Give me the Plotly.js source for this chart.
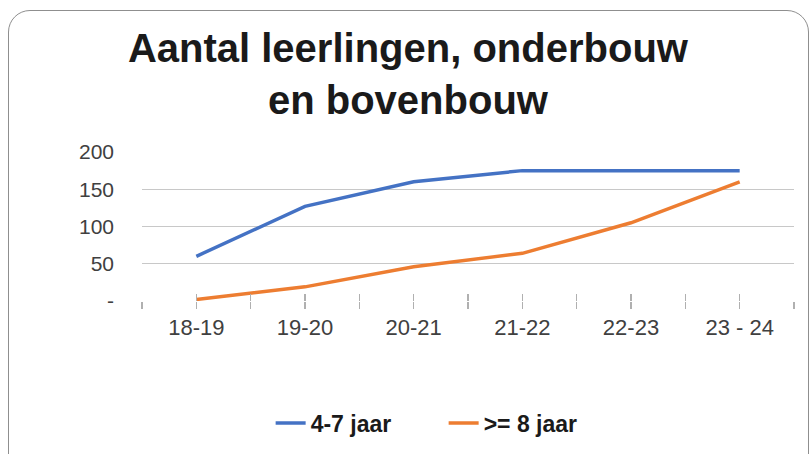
<!DOCTYPE html>
<html>
<head>
<meta charset="utf-8">
<script src="https://cdn.plot.ly/plotly-3.0.1.min.js"></script>
<style>
  html, body { margin:0; padding:0; background:#fff; }
  #wrap { position:relative; width:811px; height:454px; overflow:hidden; }
  #chart { position:absolute; left:0; top:0; width:811px; height:454px; }
  #frame { position:absolute; left:8px; top:10px; width:801px; height:470px;
           border:1.5px solid #8f8f8f; border-radius:22px; box-sizing:border-box; pointer-events:none; }
</style>
</head>
<body>
<div id="wrap"><div id="chart"></div><div id="frame"></div></div>
<script>
const categories = ['18-19', '19-20', '20-21', '21-22', '22-23', '23 - 24'];
const series1Name = '4-7 jaar';
const series1 = [60, 127, 160, 175, 175, 175];
const series2Name = '>= 8 jaar';
const series2 = [2, 19, 46, 64, 105, 160];
const yTickVals = [0, 50, 100, 150, 200];
const yTickText = ['-', '50', '100', '150', '200'];
const titleText = 'Aantal leerlingen, onderbouw<br>en bovenbouw';

const idx = categories.map((c, i) => i);
const xTickVals = [];
const xTickText = [];
for (let i = 0; i < categories.length; i++) {
  xTickVals.push(i - 0.5); xTickText.push('');
  xTickVals.push(i); xTickText.push(categories[i]);
}
xTickVals.push(categories.length - 0.5); xTickText.push('');

const traces = [
  { x: idx, y: series1, name: series1Name, type: 'scatter', mode: 'lines',
    line: { color: '#4472C4', width: 3.5 } },
  { x: idx, y: series2, name: series2Name, type: 'scatter', mode: 'lines',
    line: { color: '#ED7D31', width: 3.5 } },
  { x: idx, y: series1, xaxis: 'x2', type: 'scatter', mode: 'lines', showlegend: false,
    hoverinfo: 'skip', line: { color: 'rgba(0,0,0,0)', width: 0 } }
];

const layout = {
  width: 811, height: 454,
  margin: { l: 142, r: 17, t: 152, b: 153 },
  paper_bgcolor: '#ffffff', plot_bgcolor: '#ffffff',
  font: { family: 'Liberation Sans, Arial, sans-serif', color: '#404040' },
  title: { text: titleText, x: 0.503, xanchor: 'center', y: 0.864, yanchor: 'top', yref: 'container',
           font: { family: 'Liberation Sans, Arial, sans-serif', size: 40, color: '#1a1a1a', weight: 'bold' } },
  xaxis: { range: [-0.5, categories.length - 0.5], tickmode: 'array', tickvals: xTickVals, ticktext: xTickText,
           showgrid: false, zeroline: false, showline: false, ticks: 'outside', ticklen: 7, tickwidth: 1.5,
           tickcolor: '#b0b0b0', tickfont: { size: 22, color: '#404040' }, fixedrange: true },
  xaxis2: { overlaying: 'x', matches: 'x', range: [-0.5, categories.length - 0.5], tickmode: 'array',
            tickvals: xTickVals, showticklabels: false, showgrid: false, zeroline: false, showline: false,
            ticks: 'inside', ticklen: 7, tickwidth: 1.5, tickcolor: '#b0b0b0', anchor: 'y', side: 'bottom' },
  yaxis: { range: [0, 200], tickmode: 'array', tickvals: yTickVals, ticktext: yTickText,
           showgrid: true, gridcolor: '#c8c8c8', gridwidth: 1, zeroline: false, showline: false,
           ticks: '', ticklabelstandoff: 27, tickfont: { size: 21, color: '#404040' }, fixedrange: true },
  showlegend: true,
  legend: { orientation: 'h', x: 0.1973, xanchor: 'left', y: 0.068, yanchor: 'middle', yref: 'container',
            font: { size: 23, color: '#1a1a1a', weight: 'bold' }, itemwidth: 30, entrywidth: 128,
            traceorder: 'normal' }
};

Plotly.newPlot('chart', traces, layout, { displayModeBar: false, staticPlot: true });
</script>
</body>
</html>
